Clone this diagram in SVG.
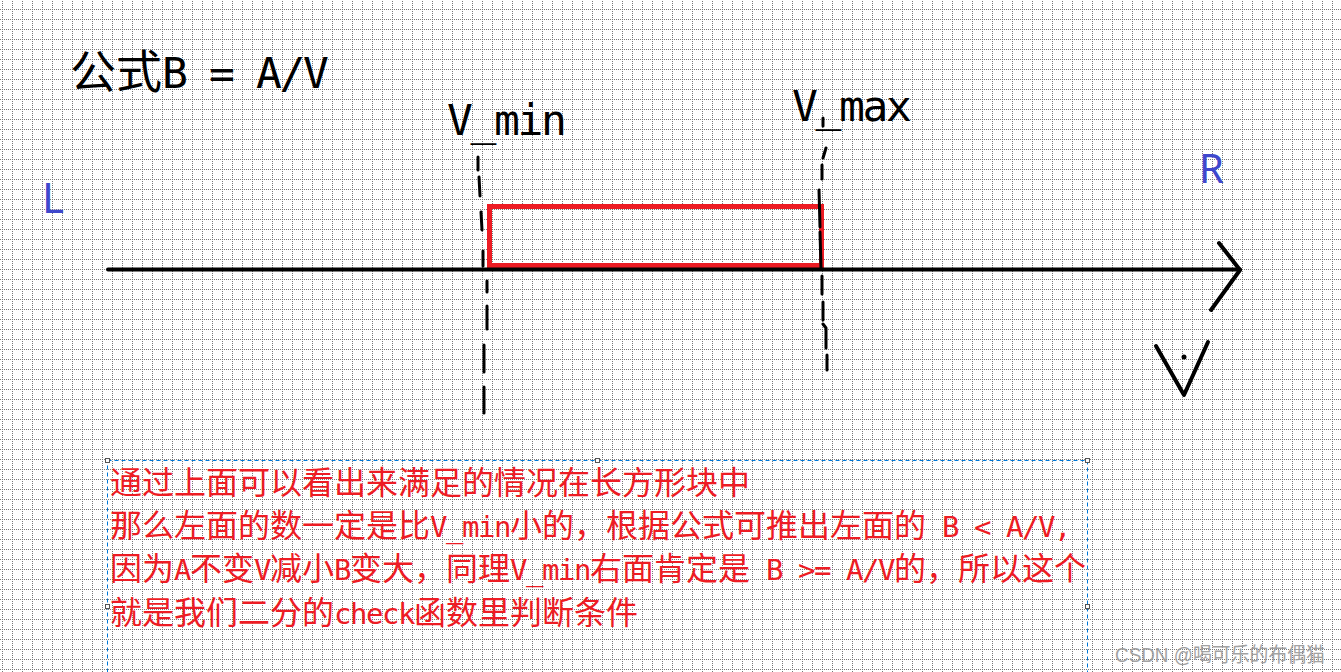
<svg xmlns="http://www.w3.org/2000/svg" width="1341" height="672" viewBox="0 0 1341 672">
<style>
.cjk{font-family:"DejaVu Sans Mono","Noto Sans CJK SC",monospace;white-space:pre}
.big{font-size:46px;fill:#000}
.big .a{font-size:43px;letter-spacing:-2.4px}
.red{font-size:32px;fill:#ed1c24}
.red .a{font-size:29px;letter-spacing:-1.46px}
.lbl{font-family:"Noto Sans","Liberation Sans",sans-serif;fill:#3f48cc}
.ink{fill:none;stroke:#000;stroke-linecap:round;stroke-linejoin:round}
.dash{stroke-width:3}
.handle{fill:#fff;stroke:#555;stroke-width:1}
</style>
<defs>
<pattern id="grid" width="10" height="10" patternUnits="userSpaceOnUse" x="2" y="9">
<path d="M0.5 0V10" stroke="#777" stroke-width="1" stroke-dasharray="1 1"/>
<path d="M0 0.5H10" stroke="#777" stroke-width="1" stroke-dasharray="1 1"/>
</pattern>
</defs>
<rect width="1341" height="672" fill="#fff"/>
<rect width="1341" height="672" fill="url(#grid)"/>

<g id="title">
<text class="cjk big" x="70" y="88">公式<tspan class="a">B = A/V</tspan></text>
</g>
<g id="label-L"><text class="lbl" x="42" y="213" font-size="42">L</text></g>
<g id="label-R"><text class="lbl" x="1199" y="183" font-size="40">R</text></g>
<g id="label-vmin"><text class="cjk big" x="447" y="135"><tspan class="a">V_min</tspan></text></g>
<g id="label-vmax"><text class="cjk big" x="792" y="121"><tspan class="a">V_max</tspan></text></g>

<g id="range-rect">
<rect x="489.5" y="206.5" width="332" height="59" fill="none" stroke="#ed1c24" stroke-width="5"/>
</g>

<g id="connectors">
<path class="ink" stroke-width="4" d="M108 269.5H1240"/>
<path class="ink" stroke-width="4" d="M1219 243L1240 270L1211 310"/>
<g class="ink dash">
<path d="M478 157L478 170M479 177L480 196M481 212L482 230M483 251L483 266M487 281L487 292M487 306L487 329M484 345L484 372M484 387L484 413"/>
<path d="M823 118L823 126M826 148L823 158M822 165L822 179M819 190L820 227M820 232L821 268M822 276L822 294M823 302L823 320M823 324L826 328L826 348M827 355L827 370"/>
</g>
</g>

<g id="v-mark">
<path class="ink" stroke-width="4" d="M1156 346L1184 395L1208 342"/>
<circle cx="1184" cy="357" r="2.5" fill="#000"/>
</g>

<g id="note">
<rect x="107.5" y="460.5" width="980" height="260" fill="none" stroke="#0078d7" stroke-width="1" stroke-dasharray="4 3"/>
<rect class="handle" x="105.5" y="458.5" width="4" height="4"/>
<rect class="handle" x="595.5" y="458.5" width="4" height="4"/>
<rect class="handle" x="1085.5" y="458.5" width="4" height="4"/>
<rect class="handle" x="105.5" y="604.5" width="4" height="4"/>
<rect class="handle" x="1085.5" y="604.5" width="4" height="4"/>
<text class="cjk red" x="110" y="494">通过上面可以看出来满足的情况在长方形块中</text>
<text class="cjk red" x="110" y="537">那么左面的数一定是比<tspan class="a">V_min</tspan>小的，根据公式可推出左面的<tspan class="a"> B &lt; A/V,</tspan></text>
<text class="cjk red" x="110" y="580">因为<tspan class="a">A</tspan>不变<tspan class="a">V</tspan>减小<tspan class="a">B</tspan>变大，同理<tspan class="a">V_min</tspan>右面肯定是<tspan class="a"> B &gt;= A/V</tspan>的，所以这个</text>
<text class="cjk red" x="110" y="624">就是我们二分的<tspan class="a">check</tspan>函数里判断条件</text>
</g>

<g id="watermark">
<text x="1115" y="662" font-family="Liberation Sans,Noto Sans CJK SC,sans-serif" font-size="20" fill="#9a9a9a" opacity="0.9" textLength="210" lengthAdjust="spacingAndGlyphs">CSDN @喝可乐的布偶猫</text>
</g>
</svg>
